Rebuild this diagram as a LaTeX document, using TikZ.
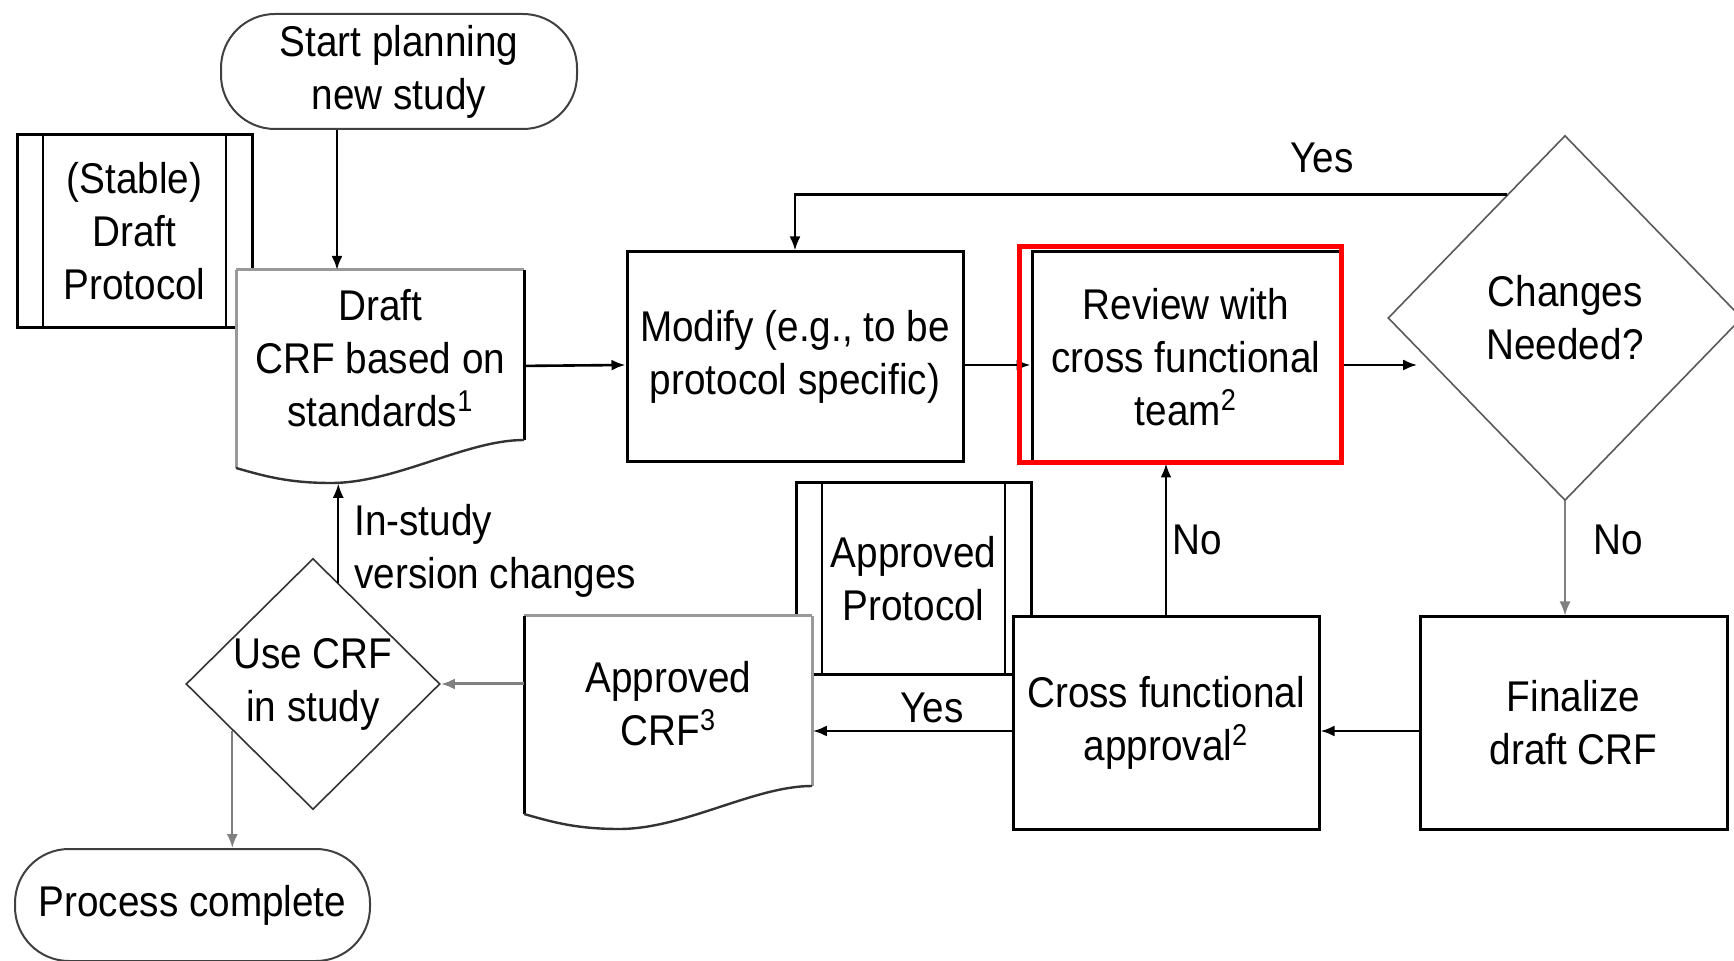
\documentclass[tikz,border=0pt]{standalone}
\usepackage{fontspec}
\setmainfont{Liberation Sans}[FakeStretch=0.9]
\usepackage{tikz}
\usetikzlibrary{shapes.geometric,arrows,arrows.meta}
\tikzstyle{terminal} = [rectangle, rounded corners=27pt, minimum width=178pt,%
    minimum height=57.5pt, align=center, draw=black!75, line width=1pt, fill=white]
\tikzstyle{process} = [rectangle, minimum width=154pt, minimum height=105pt,%
    align=center, draw=black, line width=1.5pt, fill=white]
\tikzstyle{predef} = [process, minimum width=117.5pt, minimum height=96.5pt,
    path picture={
      \draw[line width=1pt] ([xshift=13pt]path picture bounding box.north west) -- ([xshift=13pt]path picture bounding box.south west);
      \draw[line width=1pt] ([xshift=-13pt]path picture bounding box.north east) -- ([xshift=-13pt]path picture bounding box.south east);}]
\tikzstyle{doc} = [rectangle, minimum width=144pt, minimum height=87.5pt,%
    align=center, anchor=north west, inner sep=0pt]
\tikzstyle{decision} = [diamond, align=center, draw=black!65, line width=0.8pt, fill=white, inner sep=0pt]
\tikzstyle{lbl} = [inner sep=1pt, align=left]
\tikzstyle{arrow} = [line width=1.3pt,->,>={Latex[length=7pt,width=5.5pt]}]
\tikzstyle{grayarrow} = [arrow, draw=black!50]
\tikzstyle{highlight} = [draw=red, line width=2.2pt]
% document symbol: x, y of top left corner, left edge colour, right edge colour
\newcommand{\docshape}[4]{%
  \begin{scope}[shift={(#1,#2)}]
    \fill[white] (0,0) -- (288,0) -- (288,170) .. controls (230,170) and (160,213) .. (95,213)
      .. controls (50,213) and (25,205) .. (0,198) -- cycle;
    \draw[black!40, line width=1.5pt] (0,0) -- (288,0);
    \draw[#3, line width=1.5pt] (0,0) -- (0,198);
    \draw[#4, line width=1.5pt] (288,0) -- (288,170);
    \draw[black!80, line width=1.2pt] (288,170) .. controls (230,170) and (160,213) .. (95,213)
      .. controls (50,213) and (25,205) .. (0,198);
  \end{scope}}

\begin{document}
\begin{tikzpicture}[x=0.5pt, y=-0.5pt, every node/.style={font=\fontsize{21.5}{26.5}\selectfont}]
    \useasboundingbox (0,0) rectangle (1734,961);
    % top row
    \node (stable) [predef] at (134.5,231.5) {(Stable)\\Draft\\Protocol};
    \node (start) [terminal] at (399,71.5) {Start planning\\new study};
    \docshape{236}{270}{black!40}{black}
    \node (draft) [doc] at (236,270) {Draft\\CRF based on\\standards\textsuperscript{1}};
    \node (modify) [process, minimum width=168pt] at (795,357) {Modify (e.g., to be\\protocol specific)};
    \node (review) [process] at (1186,357) {Review with\\cross functional\\team\textsuperscript{2}};
    \node (changes) [decision, minimum width=177pt, minimum height=182.5pt] at (1565,318) {Changes\\Needed?};
    % bottom row
    \node (approt) [predef, minimum height=96pt] at (913.5,579) {Approved\\Protocol};
    \docshape{524}{616}{black}{black!40}
    \node (appcrf) [doc] at (524,616) {Approved\\CRF\textsuperscript{3}};
    \node (cross) [process, minimum width=153pt, minimum height=106pt] at (1166,723) {Cross functional\\approval\textsuperscript{2}};
    \node (finalize) [process, minimum width=153.5pt, minimum height=106pt] at (1573.5,723) {Finalize\\draft CRF};
    \node (usecrf) [decision, draw=black!80, minimum width=127pt, minimum height=123pt] at (313,684) {Use CRF\\in study};
    \node (process) [terminal, minimum width=177.5pt, minimum height=56pt] at (192.5,905) {Process complete};

    % connectors
    \path (start.south |- draft.north) coordinate (drafttop);
    \draw [arrow] ([xshift=-31pt]start.south) -- ([xshift=-31pt]drafttop);
    \draw [arrow] ([yshift=-4pt]draft.east) -- ([yshift=-4pt]modify.west);
    \draw [arrow] ([yshift=-4pt]modify.east) -- ([yshift=-4pt]review.west);
    \path (review.east -| changes.west) coordinate (chin);
    \draw [arrow] ([yshift=-4pt]review.east) -- ([xshift=15pt,yshift=-4pt]chin);
    \draw [arrow] (changes.115) -| (modify.north);
    \path (changes.south |- finalize.north) coordinate (fintop);
    \draw [grayarrow, line width=0.8pt] (changes.south) -- (fintop);
    \draw [arrow] ([yshift=-4pt]finalize.west) -- ([yshift=-4pt]cross.east);
    \path (cross.north |- review.south) coordinate (revbot);
    \draw [arrow] (cross.north) -- (revbot);
    \path (cross.west -| appcrf.east) coordinate (crfright);
    \draw [arrow] ([yshift=-4pt]cross.west) -- ([yshift=-4pt]crfright);
    \path (usecrf.east -| appcrf.west) coordinate (crfleft);
    \draw [grayarrow, line width=1.5pt] (crfleft) -- (usecrf.east);
    \path (usecrf.76 |- draft.south) coordinate (draftbot);
    \draw [arrow, line width=0.8pt] (usecrf.76) -- ([yshift=-19pt]draftbot);
    \path (usecrf.210 |- process.north) coordinate (proctop);
    \draw [grayarrow, line width=1pt] (usecrf.210) -- (proctop);

    \draw [highlight] ([shift={(-11,-4)}]review.north west) rectangle ([shift={(0,-1)}]review.south east);

    % labels
    \node (yestop) [lbl] at (1322,158) {Yes};
    \node (yesbot) [lbl] at (932,708) {Yes};
    \node (noleft) [lbl] at (1197,540) {No};
    \node (noright) [lbl] at (1618,540) {No};
    \node (instudy) [lbl, anchor=west] at (352,551) {In-study\\version changes};
\end{tikzpicture}
\end{document}
